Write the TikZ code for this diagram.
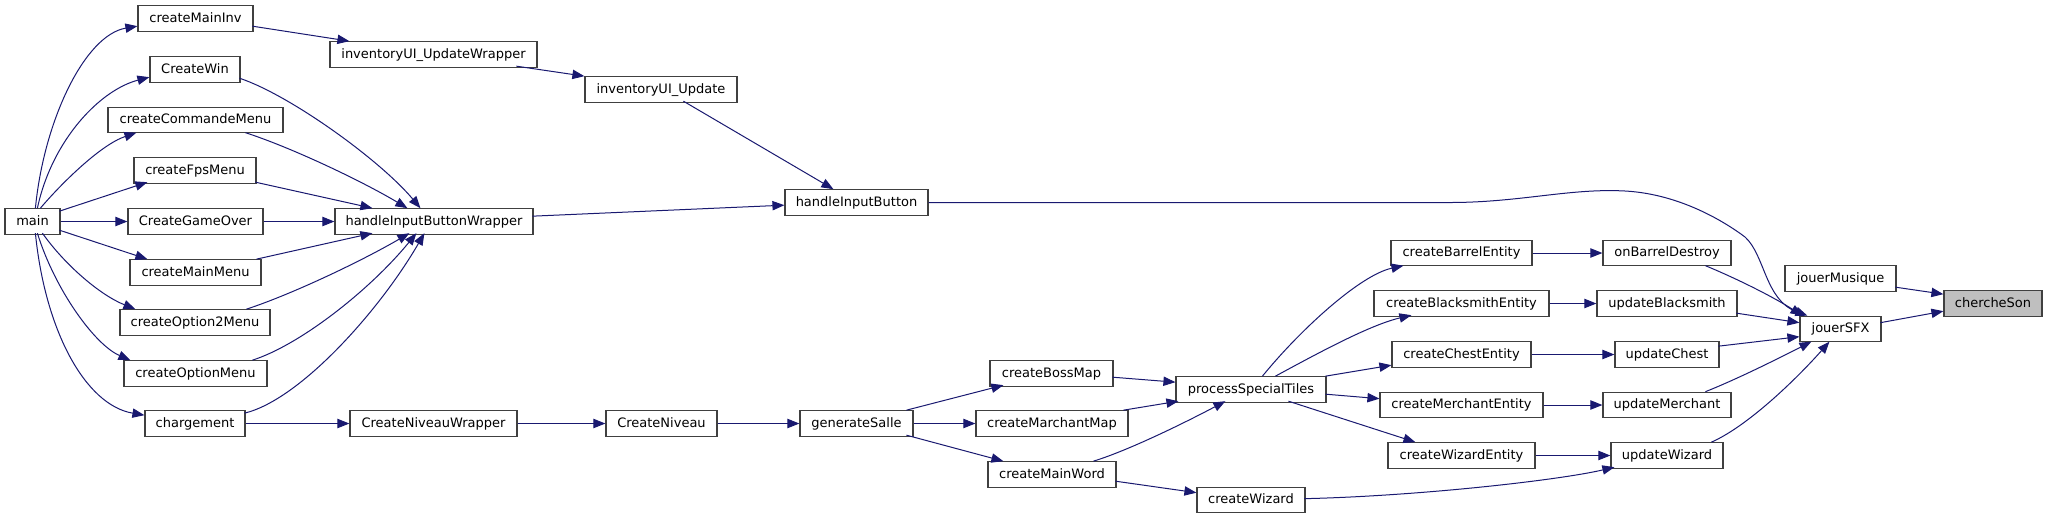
\documentclass[tikz,border=0pt]{standalone}
\usepackage{fontspec}
\setmainfont{DejaVu Sans}
\usetikzlibrary{arrows.meta,calc}
\definecolor{edgec}{HTML}{191970}
\definecolor{boxc}{HTML}{404040}
\definecolor{hl}{HTML}{BFBFBF}
\begin{document}
\begin{tikzpicture}[x=0.75pt,y=-0.75pt,
  fn/.style={draw=boxc, line width=0.9pt, fill=white, inner sep=0pt,
    minimum height=19.1pt, text height=7.4pt, text depth=1.8pt,
    font=\fontsize{9.75}{11}\selectfont, minimum width=#1*0.75pt},
  edge/.style={draw=edgec, line width=0.75pt, -{Triangle[length=9pt,width=7pt]}}
]
\path[use as bounding box] (0,0) rectangle (2047,519);

\node[fn=55] (main) at (32.5,221.5) {main};
\node[fn=115] (cMainInv) at (195.5,18.5) {createMainInv};
\node[fn=90] (cWin) at (195,69.5) {CreateWin};
\node[fn=175] (cCmd) at (195.5,120) {createCommandeMenu};
\node[fn=122] (cFps) at (195,170.5) {createFpsMenu};
\node[fn=135] (cGO) at (195.5,221.5) {CreateGameOver};
\node[fn=131] (cMM) at (195.5,272.5) {createMainMenu};
\node[fn=150] (cO2) at (195,322.5) {createOption2Menu};
\node[fn=143] (cOM) at (195.5,373.5) {createOptionMenu};
\node[fn=100] (charg) at (195,423.5) {chargement};
\node[fn=207] (iUUW) at (433.5,54.5) {inventoryUI\_UpdateWrapper};
\node[fn=198] (hIBW) at (434,221.5) {handleInputButtonWrapper};
\node[fn=167] (cNW) at (433.5,423.5) {CreateNiveauWrapper};
\node[fn=152] (iUU) at (661,89.5) {inventoryUI\_Update};
\node[fn=143] (hIB) at (856.5,202.5) {handleInputButton};
\node[fn=111] (cN) at (661.5,423.5) {CreateNiveau};
\node[fn=113] (gS) at (856.5,423.5) {generateSalle};
\node[fn=123] (cBM) at (1051.5,373.5) {createBossMap};
\node[fn=152] (cMarM) at (1052,423.5) {createMarchantMap};
\node[fn=128] (cMW) at (1052,474.5) {createMainWord};
\node[fn=150] (pST) at (1251,389.5) {processSpecialTiles};
\node[fn=108] (cWiz) at (1251,500) {createWizard};
\node[fn=141] (cBarE) at (1461.5,253) {createBarrelEntity};
\node[fn=175] (cBlE) at (1461.5,303.5) {createBlacksmithEntity};
\node[fn=139] (cChE) at (1461.5,354.5) {createChestEntity};
\node[fn=163] (cMeE) at (1461.5,405) {createMerchantEntity};
\node[fn=147] (cWiE) at (1461.5,455.5) {createWizardEntity};
\node[fn=128] (oBD) at (1667,253) {onBarrelDestroy};
\node[fn=140] (uBS) at (1667,303.5) {updateBlacksmith};
\node[fn=104] (uCh) at (1667,354.5) {updateChest};
\node[fn=128] (uMe) at (1667,405) {updateMerchant};
\node[fn=112] (uWi) at (1667,455.5) {updateWizard};
\node[fn=111] (jM) at (1840.5,278.5) {jouerMusique};
\node[fn=81] (jSFX) at (1840.5,329) {jouerSFX};
\node[fn=98, fill=hl] (cS) at (1993,303.5) {chercheSon};

% main fan-out
\draw[edge] ($(main.north west)+(31,0)$) .. controls (44,120) and (85,35) .. ($(cMainInv.north west)+(0,21)$);
\draw[edge] ($(main.north west)+(33,0)$) .. controls (52,140) and (100,90) .. ($(cWin.north west)+(0,21)$);
\draw[edge] ($(main.north west)+(36,0)$) .. controls (60,185) and (100,145) .. ($(cCmd.north west)+(29,26)$);
\draw[edge] ($(main.north west)+(55,3)$) -- ($(cFps.north west)+(14,25)$);
\draw[edge] (main.east) -- (cGO.west);
\draw[edge] ($(main.north west)+(55,22)$) -- ($(cMM.north west)+(18,0)$);
\draw[edge] ($(main.north west)+(38,25)$) .. controls (65,265) and (100,295) .. ($(cO2.north west)+(16,0)$);
\draw[edge] ($(main.north west)+(33,25)$) .. controls (55,290) and (95,345) .. ($(cOM.north west)+(7,0)$);
\draw[edge] ($(main.north west)+(31,25)$) .. controls (45,330) and (85,405) .. ($(charg.north west)+(0,5)$);

% inventory chain
\draw[edge] ($(cMainInv.north west)+(115,21)$) -- ($(iUUW.north west)+(20,0)$);
\draw[edge] ($(iUUW.north west)+(187,25)$) -- (iUU.north west);
\draw[edge] ($(iUU.north west)+(99,25)$) -- ($(hIB.north west)+(49,0)$);
\draw[edge] ($(hIBW.north west)+(198,8)$) -- ($(hIB.north west)+(0,16)$);

% into handleInputButtonWrapper
\draw[edge] ($(cWin.north west)+(90,22)$) .. controls (290,95) and (380,160) .. ($(hIBW.north west)+(86,0)$);
\draw[edge] ($(cCmd.north west)+(138,26)$) .. controls (290,147) and (360,180) .. ($(hIBW.north west)+(73,0)$);
\draw[edge] ($(cFps.north west)+(122,25)$) -- ($(hIBW.north west)+(38,0)$);
\draw[edge] (cGO.east) -- (hIBW.west);
\draw[edge] ($(cMM.north west)+(127,0)$) -- ($(hIBW.north west)+(38,25)$);
\draw[edge] ($(cO2.north west)+(127,0)$) .. controls (290,295) and (360,262) .. ($(hIBW.north west)+(75,25)$);
\draw[edge] ($(cOM.north west)+(129,0)$) .. controls (300,345) and (370,290) .. ($(hIBW.north west)+(82,25)$);
\draw[edge] ($(charg.north west)+(100,3)$) .. controls (300,400) and (380,310) .. ($(hIBW.north west)+(90,25)$);

% level chain
\draw[edge] (charg.east) -- (cNW.west);
\draw[edge] (cNW.east) -- (cN.west);
\draw[edge] (cN.east) -- (gS.west);
\draw[edge] ($(gS.north west)+(107,0)$) -- ($(cBM.north west)+(14,25)$);
\draw[edge] (gS.east) -- (cMarM.west);
\draw[edge] ($(gS.north west)+(107,25)$) -- ($(cMW.north west)+(16,0)$);
\draw[edge] ($(cBM.north west)+(123,17)$) -- ($(pST.north west)+(0,6)$);
\draw[edge] ($(cMarM.north west)+(148,0)$) -- ($(pST.north west)+(3,25)$);
\draw[edge] ($(cMW.north west)+(106,0)$) .. controls (1130,450) and (1190,420) .. ($(pST.north west)+(50,25)$);
\draw[edge] ($(cMW.north west)+(128,20)$) -- ($(cWiz.north west)+(0,6)$);

% entities
\draw[edge] ($(pST.north west)+(87,0)$) .. controls (1300,330) and (1360,275) .. ($(cBarE.north west)+(13,26)$);
\draw[edge] ($(pST.north west)+(100,0)$) .. controls (1320,352) and (1370,325) .. ($(cBlE.north west)+(38,25)$);
\draw[edge] ($(pST.north west)+(150,0)$) -- ($(cChE.north west)+(0,24)$);
\draw[edge] ($(pST.north west)+(150,18)$) -- ($(cMeE.north west)+(0,7)$);
\draw[edge] ($(pST.north west)+(113,25)$) -- ($(cWiE.north west)+(28,0)$);

\draw[edge] (cBarE.east) -- (oBD.west);
\draw[edge] (cBlE.east) -- (uBS.west);
\draw[edge] (cChE.east) -- (uCh.west);
\draw[edge] (cMeE.east) -- (uMe.west);
\draw[edge] (cWiE.east) -- (uWi.west);
\draw[edge] ($(cWiz.north west)+(108,12)$) .. controls (1420,496) and (1560,480) .. ($(uWi.north west)+(4,25)$);

% into jouerSFX
\draw[edge] (hIB.east) -- (1450,202.5) .. controls (1520,202.5) and (1570,188) .. (1625,191)
  .. controls (1680,194) and (1725,222) .. (1745,237)
  .. controls (1765,255) and (1765,300) .. ($(jSFX.north west)+(8,0)$);
\draw[edge] ($(oBD.north west)+(103,26)$) .. controls (1740,280) and (1775,298) .. ($(jSFX.north west)+(3,0)$);
\draw[edge] ($(uBS.north west)+(140,23)$) -- ($(jSFX.north west)+(0,7)$);
\draw[edge] ($(uCh.north west)+(104,5)$) -- ($(jSFX.north west)+(0,21)$);
\draw[edge] ($(uMe.north west)+(103,0)$) .. controls (1740,378) and (1785,355) .. ($(jSFX.north west)+(12,26)$);
\draw[edge] ($(uWi.north west)+(101,0)$) .. controls (1750,425) and (1800,375) .. ($(jSFX.north west)+(30,26)$);

% into chercheSon
\draw[edge] ($(jM.north west)+(111,22)$) -- ($(cS.north west)+(0,4)$);
\draw[edge] ($(jSFX.north west)+(81,7)$) -- ($(cS.north west)+(0,21)$);
\end{tikzpicture}
\end{document}
